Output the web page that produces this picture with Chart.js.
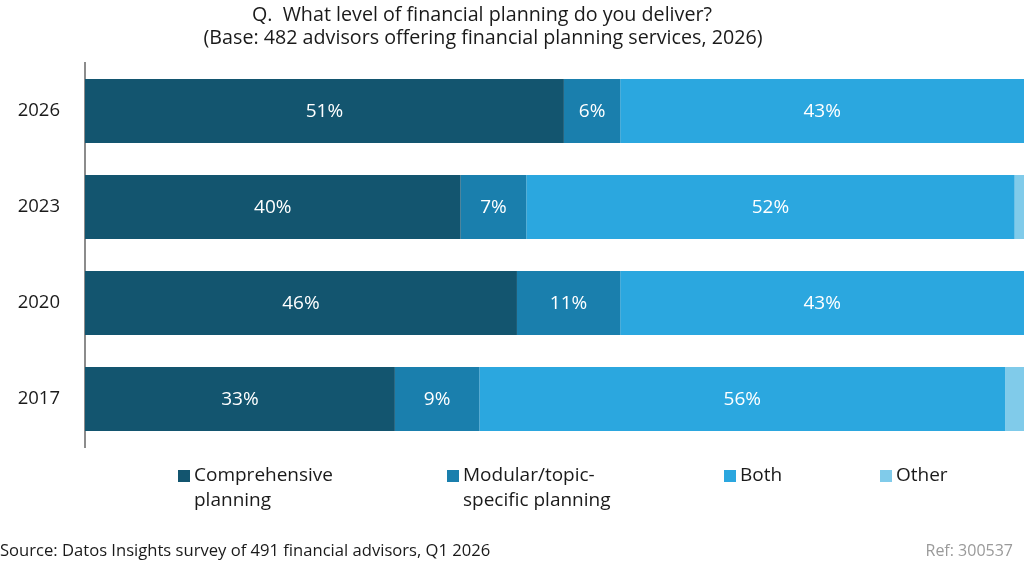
<!DOCTYPE html>
<html>
<head>
<meta charset="utf-8">
<script src="https://cdn.jsdelivr.net/npm/chart.js@4"></script>
<style>
  body { margin: 0; background: #fff; }
  #wrap { width: 1024px; height: 563px; position: relative; }
</style>
</head>
<body>
<div id="wrap"><canvas id="myChart"></canvas></div>
<script>
const years = ["2026", "2023", "2020", "2017"];
const comprehensive = [51, 40, 46, 33];
const modular = [6, 7, 11, 9];
const both = [43, 52, 43, 56];
const other = [0, 1, 0, 2];
const seriesNames = [["Comprehensive", "planning"], ["Modular/topic-", "specific planning"], ["Both"], ["Other"]];
const colors = ["#13556f", "#1a7fad", "#2ba7df", "#80cbea"];
const titleLines = ["Q.  What level of financial planning do you deliver?", "(Base: 482 advisors offering financial planning services, 2026)"];
const sourceText = "Source: Datos Insights survey of 491 financial advisors, Q1 2026";
const refText = "Ref: 300537";

const FONT = "'Open Sans', sans-serif";

// white % labels inside the bigger segments
const segmentLabels = {
  id: "segmentLabels",
  afterDatasetsDraw(chart) {
    const ctx = chart.ctx;
    ctx.save();
    ctx.fillStyle = "#fff";
    ctx.font = "19px " + FONT;
    ctx.textAlign = "center";
    ctx.textBaseline = "middle";
    chart.data.datasets.forEach((ds, i) => {
      if (i === 3) return;
      chart.getDatasetMeta(i).data.forEach((bar, j) => {
        const v = ds.data[j];
        if (!v) return;
        const x = (bar.x + bar.base) / 2;
        ctx.fillText(v + "%", x, bar.y + 1);
      });
    });
    ctx.restore();
  }
};

// title, legend and footer text
const extras = {
  id: "extras",
  afterDraw(chart) {
    const ctx = chart.ctx;
    ctx.save();
    ctx.textBaseline = "middle";
    ctx.fillStyle = "#1a1a1a";
    ctx.font = "19.7px " + FONT;
    ctx.textAlign = "center";
    ctx.fillText(titleLines[0], 482, 15);
    ctx.fillText(titleLines[1], 483, 38);

    const legendX = [178, 447, 724, 880];
    ctx.font = "19px " + FONT;
    ctx.textAlign = "left";
    seriesNames.forEach((lines, i) => {
      ctx.fillStyle = colors[i];
      ctx.fillRect(legendX[i], 470, 12, 12);
      ctx.fillStyle = "#1a1a1a";
      lines.forEach((t, k) => ctx.fillText(t, legendX[i] + 16, 476 + k * 25));
    });

    ctx.font = "16.6px " + FONT;
    ctx.fillStyle = "#1a1a1a";
    ctx.fillText(sourceText, 0, 551);
    ctx.textAlign = "right";
    ctx.fillStyle = "#9a9a9a";
    ctx.font = "16px " + FONT;
    ctx.fillText(refText, 1013, 551);
    ctx.restore();
  }
};

new Chart(document.getElementById("myChart"), {
  type: "bar",
  data: {
    labels: years,
    datasets: [
      { label: "Comprehensive planning", data: comprehensive, backgroundColor: colors[0] },
      { label: "Modular/topic-specific planning", data: modular, backgroundColor: colors[1] },
      { label: "Both", data: both, backgroundColor: colors[2] },
      { label: "Other", data: other, backgroundColor: colors[3] }
    ]
  },
  options: {
    indexAxis: "y",
    responsive: true,
    maintainAspectRatio: false,
    animation: false,
    layout: { padding: { top: 63, bottom: 116, left: 0, right: 0 } },
    datasets: { bar: { categoryPercentage: 1, barPercentage: 0.667, borderWidth: 0 } },
    scales: {
      x: { stacked: true, min: 0, max: 100, display: false },
      y: {
        stacked: true,
        afterFit(scale) { scale.width = 85; },
        grid: { display: false },
        border: { display: true, color: "#8c8c8c", width: 2 },
        ticks: { color: "#1a1a1a", padding: 17, font: { size: 18.5, family: FONT } }
      }
    },
    plugins: {
      legend: { display: false },
      tooltip: { enabled: false }
    }
  },
  plugins: [segmentLabels, extras]
});
</script>
</body>
</html>
